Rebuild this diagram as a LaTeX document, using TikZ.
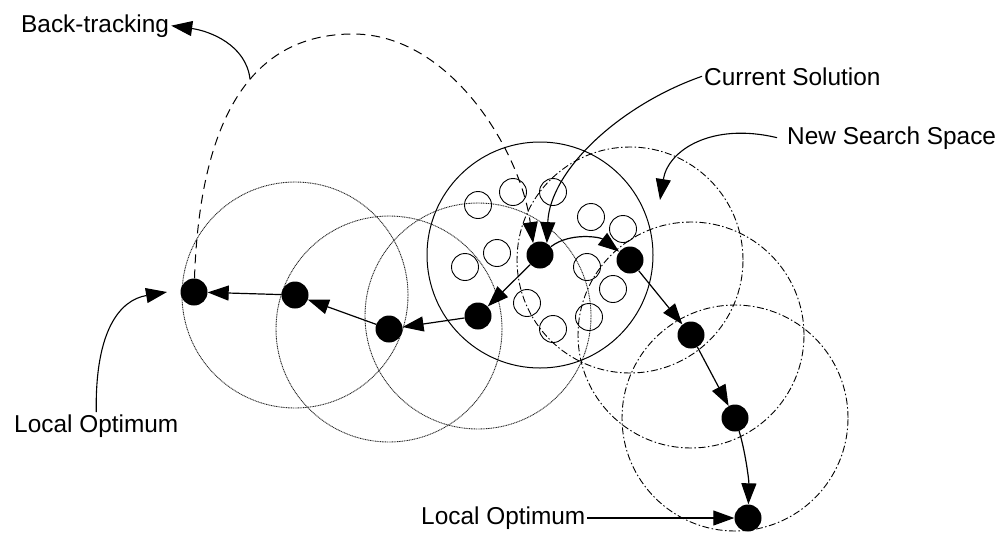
\documentclass[tikz,border=0pt]{standalone}
\usepackage{fontspec}
\setmainfont{Liberation Sans}
\usetikzlibrary{arrows.meta}
\begin{document}
\begin{tikzpicture}[x=1pt,y=-1pt,
  lbl/.style={font=\fontsize{24.4}{29}\selectfont, inner sep=2pt},
  dot/.style={circle, fill=black, minimum size=27pt, inner sep=0pt},
  cand/.style={circle, draw, line width=0.9pt, minimum size=27pt, inner sep=0pt},
  nbhd/.style={line width=0.9pt, black!85, dash pattern=on 1pt off 0.7pt},
  nbhdnew/.style={line width=0.9pt, dash pattern=on 7pt off 2.5pt on 1.5pt off 2.5pt},
  cur/.style={line width=1pt},
  tip/.style={-{Triangle[length=21pt,width=15pt]}},
  move/.style={line width=1.2pt, tip},
  back/.style={line width=1pt, dash pattern=on 9pt off 6pt, tip},
  pointer/.style={line width=1.1pt, tip}
]
\useasboundingbox (0,0) rectangle (1000,533);

% positions of the visited solutions
\coordinate (pA) at (540,255);
\coordinate (pB) at (630,260);
\coordinate (pC) at (691,335);
\coordinate (pD) at (735,418);
\coordinate (pE) at (748,518);
\coordinate (pF) at (478,316);
\coordinate (pG) at (389,329);
\coordinate (pH) at (295,295);
\coordinate (pI) at (194,292);

% neighbourhoods already searched
\draw[nbhd] (pH) circle[radius=113pt];
\draw[nbhd] (pG) circle[radius=113pt];
\draw[nbhd] (pF) circle[radius=113pt];
% neighbourhood of the current solution
\draw[cur] (pA) circle[radius=113pt];
% new neighbourhoods
\draw[nbhdnew] (pB) circle[radius=113pt];
\draw[nbhdnew] (pC) circle[radius=113pt];
\draw[nbhdnew] (pD) circle[radius=113pt];

% candidate solutions in the current neighbourhood
\foreach \p [count=\k] in {(478,205),(513,192),(553,192),(497,253),(465,267),(591,217),
                            (623,229),(587,267),(613,289),(527,303),(553,329),(589,317)}
  \node[cand] (c\k) at \p {};

% visited solutions
\foreach \n in {A,B,C,D,E,F,G,H,I}
  \node[dot] (\n) at (p\n) {};

% moves
\draw[move] (A) .. controls (570,232) and (600,237) .. (B);
\draw[move] (B) -- (C);
\draw[move] (C) -- (D);
\draw[move] (D) .. controls (745,450) and (749,480) .. (E);
\draw[move] (A) -- (F);
\draw[move] (F) -- (G);
\draw[move] (G) -- (H);
\draw[move] (H) -- (I);

% back-tracking
\draw[back] (I) .. controls (200,120) and (250,34) .. (353,34)
               .. controls (450,34) and (520,150) .. (A.120);

% labels
\node[lbl, anchor=base west] (bt)  at (19,32)   {Back-tracking};
\node[lbl, anchor=base west] (cs)  at (702,85)  {Current Solution};
\node[lbl, anchor=base west] (nss) at (785,144) {New Search Space};
\node[lbl, anchor=base west] (lo1) at (12,432)  {Local Optimum};
\node[lbl, anchor=base west] (lo2) at (419,524) {Local Optimum};

\coordinate (btfoot) at (250,79);
\coordinate (lo1tip) at (167,292);
\coordinate (nsstip) at (660,200);

\draw[pointer] (btfoot) .. controls (246,45) and (210,31) .. (bt.east);
\draw[pointer] (cs.west) .. controls (620,105) and (550,170) .. (A.60);
\draw[pointer] ([xshift=-8pt]nss.west) .. controls (712,122) and (668,150) .. (nsstip);
\draw[pointer] (lo1.north) .. controls (95,330) and (120,300) .. (lo1tip);
\draw[pointer] (lo2.east |- E) -- (E);
\end{tikzpicture}
\end{document}
